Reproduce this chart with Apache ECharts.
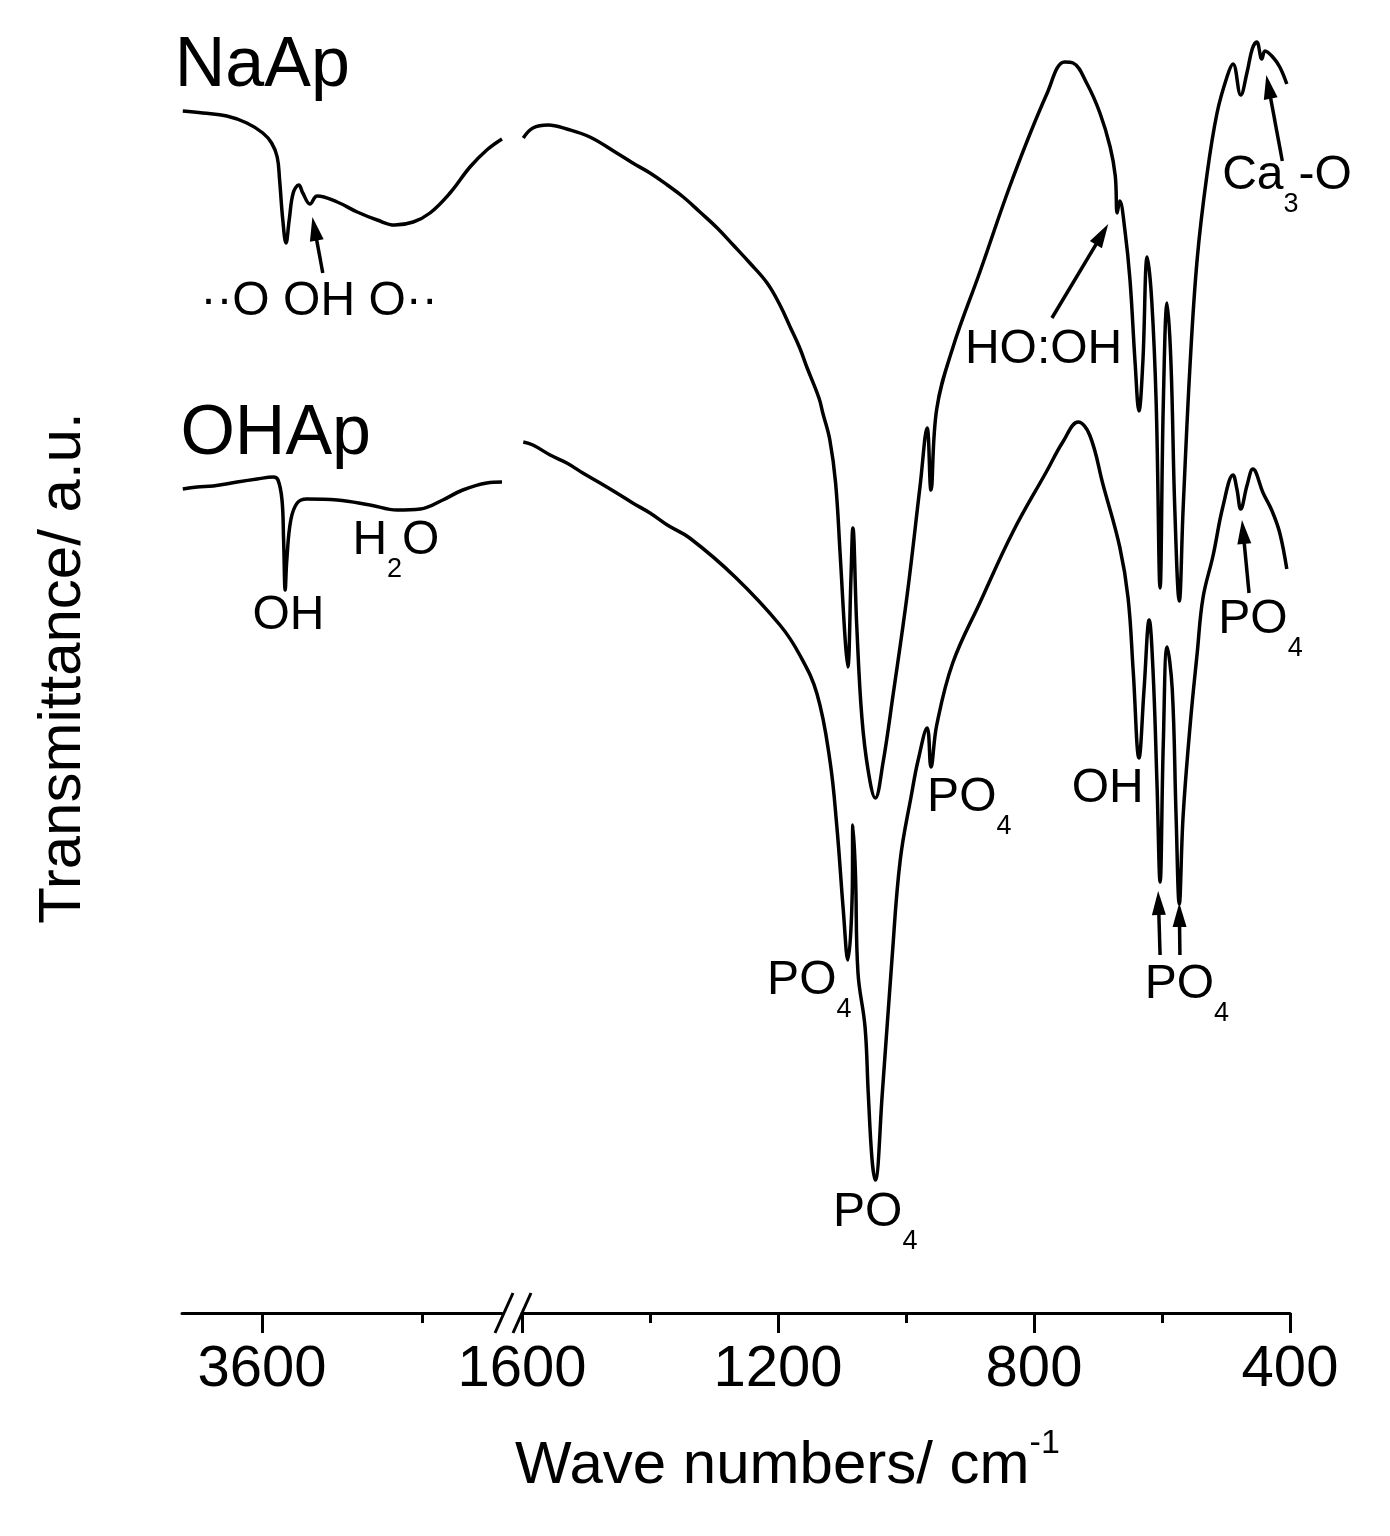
<!DOCTYPE html>
<html>
<head>
<meta charset="utf-8">
<script src="https://cdn.jsdelivr.net/npm/echarts@6/dist/echarts.min.js"></script>
<style>
html, body { margin: 0; background: #fff; }
#main { width: 1390px; height: 1536px; }
</style>
</head>
<body>
<div id="main"></div>
<script>
// [wave number / cm-1, transmittance a.u. (curves offset)]
var naapHigh = [[3699,120.2],[3674,120.0],[3644,119.7],[3619,119.0],[3599,118.0],[3588,117.0],[3581,115.6],[3578,113.3],[3574,109.3],[3570,107.0],[3566,109.3],[3561,112.0],[3554,112.8],[3549,112.0],[3540,110.9],[3531,111.7],[3506,111.1],[3481,110.1],[3456,109.3],[3434,108.8],[3411,109.1],[3390,110.0],[3365,112.0],[3340,114.6],[3319,116.3],[3300,117.4]];
var ohapHigh = [[3699,82.4],[3681,82.6],[3661,82.7],[3631,83.1],[3606,83.4],[3586,83.6],[3580,83.3],[3575,81.3],[3573,77.3],[3571,72.3],[3569,75.3],[3564,79.3],[3556,81.0],[3544,81.4],[3506,81.3],[3465,80.8],[3431,80.3],[3402,80.4],[3374,81.3],[3349,82.3],[3319,83.0],[3300,83.1]];
var naapLow = [[1598,117.5],[1583,118.5],[1559,118.8],[1530,118.4],[1494,117.6],[1452,116.0],[1427,115.0],[1400,114.0],[1373,112.8],[1348,111.6],[1322,110.1],[1295,108.5],[1270,106.8],[1244,105.0],[1217,103.0],[1197,100.8],[1181,98.6],[1166,96.5],[1155,94.6],[1136,91.5],[1130,90.0],[1119,87.3],[1110,83.0],[1103,76.0],[1095,67.3],[1091,64.6],[1086,73.5],[1083,78.5],[1077,68.8],[1069,59.6],[1059,54.2],[1048,51.5],[1036,55.0],[1020,61.9],[998,71.9],[978,82.7],[967,88.5],[961,82.3],[952,90.4],[927,96.5],[884,104.2],[833,113.5],[780,121.9],[752,125.1],[739,125.0],[717,122.9],[697,120.0],[681,116.6],[673,113.7],[670,110.0],[666,111.2],[658,108.3],[650,103.3],[642,95.0],[636,90.2],[630,95.0],[623,105.6],[616,101.2],[609,90.8],[603,72.5],[598,90.8],[592,101.0],[586,95.0],[580,80.4],[573,71.2],[567,80.4],[556,95.0],[545,105.4],[530,113.7],[514,120.0],[498,123.7],[489,124.9],[477,121.8],[467,124.1],[459,126.4],[452,127.1],[444,125.4],[439,126.2],[427,125.6],[416,124.6],[405,122.9]];
var ohapLow = [[1598,87.1],[1583,86.8],[1556,85.8],[1530,85.0],[1505,84.0],[1478,83.0],[1452,82.0],[1427,81.0],[1400,80.0],[1373,78.8],[1338,77.5],[1267,73.6],[1197,68.8],[1166,65.8],[1139,61.9],[1119,55.3],[1108,48.6],[1098,40.3],[1091,35.3],[1084,42.0],[1083,48.8],[1079,44.0],[1075,34.0],[1064,28.6],[1059,22.0],[1053,15.3],[1048,13.3],[1037,22.0],[1022,35.3],[1009,45.3],[991,52.0],[981,55.3],[967,58.5],[961,54.6],[952,58.8],[927,65.0],[884,71.1],[833,78.1],[780,84.2],[755,87.1],[731,89.1],[713,87.8],[692,82.8],[666,76.6],[653,71.5],[645,64.2],[636,55.5],[628,62.4],[620,69.3],[614,64.2],[608,53.3],[603,43.1],[598,56.9],[592,66.6],[584,62.4],[578,49.7],[573,40.9],[567,49.7],[556,58.8],[545,66.0],[536,71.5],[520,75.8],[505,80.6],[489,83.8],[483,82.4],[477,80.4],[467,82.8],[458,84.4],[442,82.0],[428,80.2],[416,78.0],[405,74.4]];

var highTicks = [3600];
var highMinor = [3400];

// peak labels: grid, [wn, value] of left edge / middle, rich text
var peakLabels = [
	{ g: 0, at: [3709, 124.6], text: '{b|NaAp}' },
	{ g: 0, at: [3702, 87.8], text: '{b|OHAp}' },
	{ g: 0, at: [3677, 101.1], text: '{m|\u00b7\u00b7O OH O\u00b7\u00b7}' },
	{ g: 0, at: [3612, 69.7], text: '{m|OH}' },
	{ g: 0, at: [3487, 77.2], text: '{m|H}{s|2}{m|O}' },
	{ g: 1, at: [908, 96.3], text: '{m|HO:OH}' },
	{ g: 1, at: [506, 113.7], text: '{m|Ca}{s|3}{m|-O}' },
	{ g: 1, at: [512, 69.3], text: '{m|PO}{s|4}' },
	{ g: 1, at: [967, 51.5], text: '{m|PO}{s|4}' },
	{ g: 1, at: [1217, 33.2], text: '{m|PO}{s|4}' },
	{ g: 1, at: [1114, 10.0], text: '{m|PO}{s|4}' },
	{ g: 1, at: [627, 32.8], text: '{m|PO}{s|4}' },
	{ g: 1, at: [741, 52.4], text: '{m|OH}' }
];
// arrows: grid, tail, tip
var arrows = [
	{ g: 0, from: [3524, 104.0], to: [3537, 109.6] },
	{ g: 1, from: [772, 99.5], to: [684, 108.9] },
	{ g: 1, from: [412, 115.2], to: [437, 123.8] },
	{ g: 1, from: [464, 72.0], to: [475, 79.3] },
	{ g: 1, from: [603, 35.8], to: [606, 42.2] },
	{ g: 1, from: [572, 35.8], to: [573, 41.0] }
];

var FF = '"Liberation Sans", Arial, sans-serif';
var black = '#000';
var plain = function (v) { return String(v); };

var chart = echarts.init(document.getElementById('main'));

var option = {
	animation: false,
	backgroundColor: '#fff',
	grid: [
		{ left: 182, width: 320, top: 13, height: 1300 },
		{ left: 522, width: 768, top: 13, height: 1300 }
	],
	xAxis: [{
		gridIndex: 0,
		type: 'value',
		position: 'bottom',
		min: 3300,
		max: 3700,
		inverse: true,
		axisLine: { lineStyle: { color: black, width: 3 } },
		axisTick: { customValues: highTicks, length: 20, lineStyle: { color: black, width: 3 } },
		axisLabel: { customValues: highTicks, formatter: plain, color: black, fontSize: 58, fontFamily: FF, margin: 28 },
		splitLine: { show: false }
	}, {
		gridIndex: 1,
		type: 'value',
		position: 'bottom',
		min: 400,
		max: 1600,
		interval: 400,
		inverse: true,
		axisLine: { lineStyle: { color: black, width: 3 } },
		axisTick: { length: 20, lineStyle: { color: black, width: 3 } },
		minorTick: { show: true, splitNumber: 2, length: 10, lineStyle: { color: black, width: 3 } },
		axisLabel: { formatter: plain, color: black, fontSize: 58, fontFamily: FF, margin: 28, showMinLabel: true, showMaxLabel: true },
		splitLine: { show: false }
	}, {
		// minor tick of the high wave number part
		gridIndex: 0,
		type: 'value',
		position: 'bottom',
		offset: 0,
		min: 3300,
		max: 3700,
		inverse: true,
		axisLine: { show: false },
		axisTick: { customValues: highMinor, length: 10, lineStyle: { color: black, width: 3 } },
		axisLabel: { show: false },
		splitLine: { show: false }
	}],
	yAxis: [
		{ gridIndex: 0, type: 'value', min: 0, max: 130, show: false },
		{ gridIndex: 1, type: 'value', min: 0, max: 130, show: false }
	],
	series: [
		{ name: 'NaAp', type: 'line', xAxisIndex: 0, yAxisIndex: 0, data: naapHigh },
		{ name: 'OHAp', type: 'line', xAxisIndex: 0, yAxisIndex: 0, data: ohapHigh },
		{ name: 'NaAp', type: 'line', xAxisIndex: 1, yAxisIndex: 1, data: naapLow },
		{ name: 'OHAp', type: 'line', xAxisIndex: 1, yAxisIndex: 1, data: ohapLow }
	].map(function (s) {
		s.symbol = 'none';
		s.smooth = 0.4;
		s.lineStyle = { color: black, width: 3.5 };
		return s;
	})
};
chart.setOption(option);

function toPx(g, p) {
	return chart.convertToPixel({ xAxisIndex: g, yAxisIndex: g }, p);
}

var rich = {
	b: { fontSize: 70, fontFamily: FF, fill: black, verticalAlign: 'middle' },
	m: { fontSize: 48, fontFamily: FF, fill: black, verticalAlign: 'middle' },
	s: { fontSize: 27, fontFamily: FF, fill: black, verticalAlign: 'middle', padding: [58, 0, 0, 0] },
	t: { fontSize: 60, fontFamily: FF, fill: black, verticalAlign: 'middle' },
	p: { fontSize: 34, fontFamily: FF, fill: black, verticalAlign: 'middle', padding: [0, 0, 44, 0] }
};

var graphics = [];
peakLabels.forEach(function (l) {
	var p = toPx(l.g, l.at);
	graphics.push({
		type: 'text', x: p[0], y: p[1],
		style: { text: l.text, rich: rich, align: 'left', verticalAlign: 'middle' }
	});
});
arrows.forEach(function (a) {
	var p = toPx(a.g, a.from), q = toPx(a.g, a.to);
	var dx = q[0] - p[0], dy = q[1] - p[1];
	var len = Math.sqrt(dx * dx + dy * dy);
	var ux = dx / len, uy = dy / len, hl = 24, hw = 7;
	var bx = q[0] - ux * hl, by = q[1] - uy * hl;
	graphics.push({
		type: 'line',
		shape: { x1: p[0], y1: p[1], x2: bx + ux * 2, y2: by + uy * 2 },
		style: { stroke: black, lineWidth: 3.5 }
	});
	graphics.push({
		type: 'polygon',
		shape: { points: [[q[0], q[1]], [bx - uy * hw, by + ux * hw], [bx + uy * hw, by - ux * hw]] },
		style: { fill: black }
	});
});

// axis break marks
var b1 = toPx(0, [3300, 0]), b2 = toPx(1, [1600, 0]);
[b1[0] + 2, b2[0]].forEach(function (x) {
	graphics.push({
		type: 'line',
		shape: { x1: x - 9, y1: b1[1] + 20, x2: x + 9, y2: b1[1] - 20 },
		style: { stroke: black, lineWidth: 3 }
	});
});

// axis titles
graphics.push({
	type: 'text', x: 515, y: 1466,
	style: { text: '{t|Wave numbers/ cm}{p|-1}', rich: rich, align: 'left', verticalAlign: 'middle' }
});
graphics.push({
	type: 'text', x: 63, y: 668, rotation: Math.PI / 2,
	style: { text: 'Transmittance/ a.u.', fontSize: 60, fontFamily: FF, fill: black, align: 'center', verticalAlign: 'middle' }
});

chart.setOption({ graphic: graphics });
</script>
</body>
</html>
